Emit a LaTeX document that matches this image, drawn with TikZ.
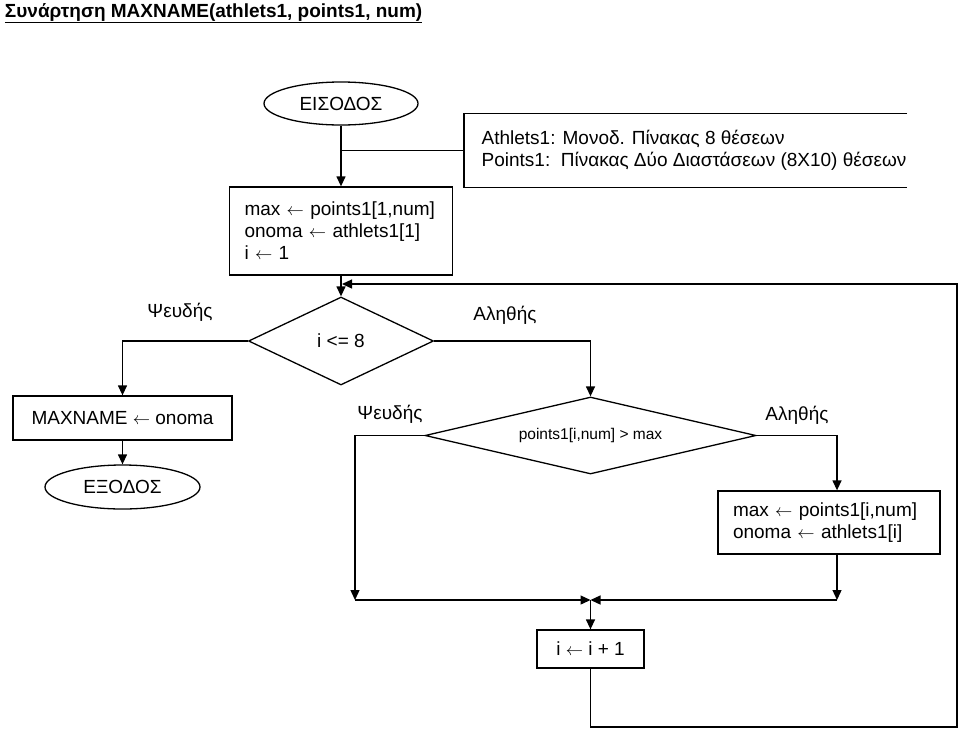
\documentclass[tikz,border=0pt]{standalone}
\usepackage{fontspec}
\setmainfont{Liberation Sans}
\usetikzlibrary{shapes.geometric,arrows.meta,positioning}

\begin{document}
\begin{tikzpicture}[%
    x=1pt, y=-1pt,                          % work on the picture's pixel grid, y going down
    >={Triangle[length=10pt,width=9pt]},    % filled arrow heads
    line width=1.3pt,
    font=\fontsize{19}{22}\selectfont,
    ]
% -------------------------------------------------
% Box styles
% <on grid> makes every relative distance centre to centre
\tikzset{
  base/.style={draw, on grid, inner sep=0pt},
  proc/.style={base, rectangle, align=left, inner xsep=15pt},
  test/.style={base, diamond},
  term/.style={base, ellipse},
  % branch labels
  lbl/.style={on grid},
  % coord node style is used for the corners of connecting lines
  coord/.style={coordinate, on grid},
}
\useasboundingbox (0,0) rectangle (960,731);

% -------------------------------------------------
% Title
\node [anchor=west, font=\fontsize{19}{22}\selectfont\bfseries] (title) at (1,13)
  {\underline{Συνάρτηση MAXNAME(athlets1, points1, num)}};

% Place the nodes
\node [term, minimum width=154pt, minimum height=43pt] (start) at (341,103.5) {ΕΙΣΟΔΟΣ};
\node [proc, below=127.5pt of start, text width=193pt, minimum height=88pt] (p1)
  {max $\leftarrow$ points1[1,num]\\ onoma $\leftarrow$ athlets1[1]\\ i $\leftarrow$ 1};
\node [test, below=110pt of p1, minimum width=185pt, minimum height=88pt, aspect=2.1] (t1) {i <= 8};

% False side
\node [proc, align=center, inner xsep=0pt, below left=77pt and 218.5pt of t1,
       minimum width=219pt, minimum height=44pt] (p2) {MAXNAME $\leftarrow$ onoma};
\node [term, below=69pt of p2, minimum width=155pt, minimum height=44pt] (stop) {ΕΞΟΔΟΣ};

% True side
\node [test, below right=94.5pt and 249.5pt of t1, minimum width=331pt, minimum height=77pt,
       aspect=4.3, font=\fontsize{15.5}{18}\selectfont] (t2) {points1[i,num] > max};
\node [proc, below right=87pt and 238.5pt of t2, text width=192pt, minimum height=63pt] (p3)
  {max $\leftarrow$ points1[i,num]\\ onoma $\leftarrow$ athlets1[i]};
\node [proc, align=center, inner xsep=0pt, below=213.5pt of t2,
       minimum width=107pt, minimum height=38pt] (p4) {i $\leftarrow$ i + 1};

% Comment on the parameters
\node [anchor=west, align=left, inner xsep=17pt, minimum height=73pt] (note) at (464,150.5)
  {Athlets1: Μονοδ. Πίνακας 8 θέσεων\\ Points1:\ \ Πίνακας Δύο Διαστάσεων (8X10) θέσεων};

% Branch labels
\node [lbl, above left=29pt and 161pt of t1] (n1) {Ψευδής};
\node [lbl, above right=26pt and 164pt of t1] (y1) {Αληθής};
\node [lbl, above left=21.5pt and 200.5pt of t2] (n2) {Ψευδής};
\node [lbl, above right=20.5pt and 206.5pt of t2] (y2) {Αληθής};

% Invisible corner nodes
\node [coord, below=164.5pt of t2] (m) {};
\node [coord, left=235.5pt of m] (c1) {};
\node [coord, right=246.5pt of m] (c2) {};
\node [coord, below right=78pt and 366.5pt of p4] (c3) {};
\node [coord, above=443pt of c3] (c4) {};

% Simple top/bottom connections
\draw [->] (start) -- (p1);
\draw [->] (p1) -- (t1);
\draw [->] (p2) -- (stop);
\draw [->] (m) -- (p4);

% Corner paths
\draw [->] (t1.west) -| (p2.north);
\draw [->] (t1.east) -| (t2.north);
\draw [->] (t2.west) -| (c1);
\draw [->] (t2.east) -| (c2 |- p3.north);
\draw [->] (c2 |- p3.south) -- (c2);
\draw [->] (c1) -- (m);
\draw [->] (c2) -- (m);
\draw [->] (p4.south) |- (c3) -- (c4) -- ([xshift=1pt]t1.north |- c4);

% Comment bracket
\draw ([xshift=-17pt]note.north east) -- (note.north west) -- (note.south west) -- ([xshift=-17pt]note.south east);
\draw (note.west) -- (note.west -| start.south);

\end{tikzpicture}
\end{document}
